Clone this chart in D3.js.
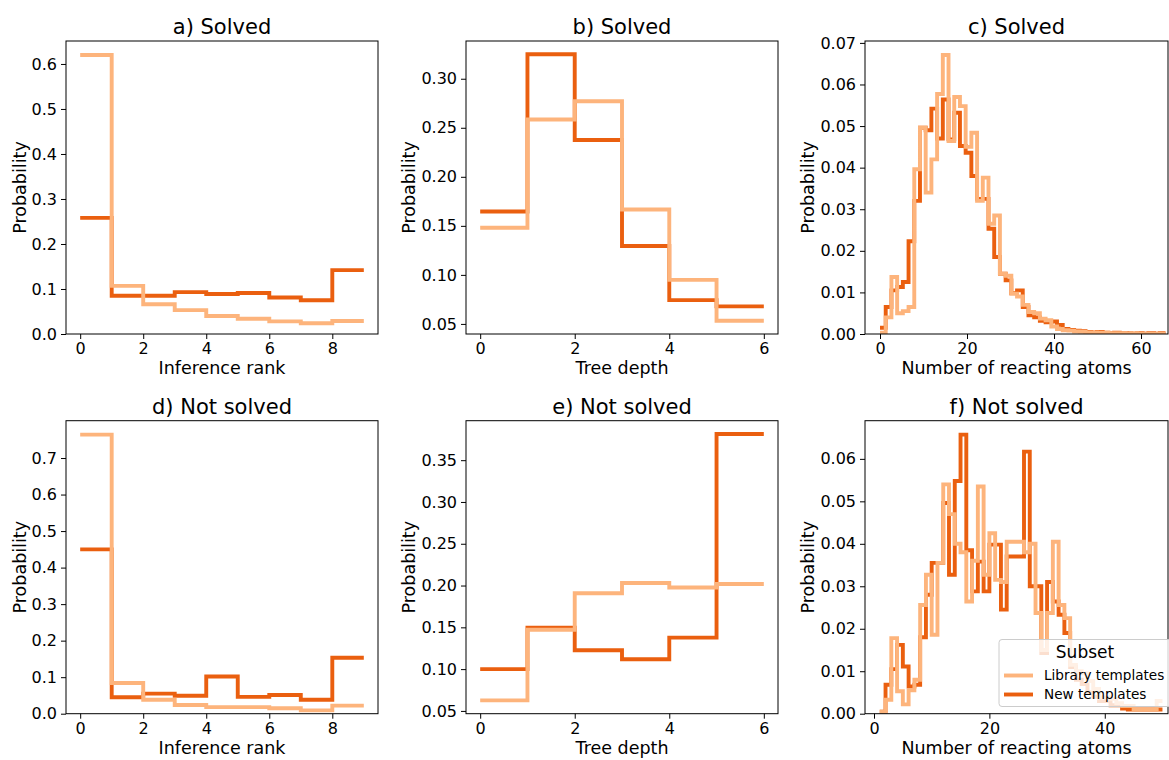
<!DOCTYPE html>
<html><head><meta charset="utf-8">
<script src="https://cdn.jsdelivr.net/npm/d3@7"></script>
<style>body{margin:0;background:#fff} svg{display:block} text{font-family:"DejaVu Sans",sans-serif;fill:#000}</style>
</head><body><svg id="chart" width="1169" height="760"></svg>
<script>
// ---------------- data ----------------
const seriesNames = ["Library templates", "New templates"];
const seriesColors = ["#fdb47c", "#ea5f0f"];

const rankEdges = [0, 1, 2, 3, 4, 5, 6, 7, 8, 9];
const solvedRankLibrary = [0.620, 0.107, 0.066, 0.053, 0.040, 0.034, 0.028, 0.024, 0.029];
const solvedRankNew     = [0.258, 0.085, 0.085, 0.093, 0.089, 0.091, 0.081, 0.075, 0.142];
const notSolvedRankLibrary = [0.764, 0.084, 0.038, 0.024, 0.018, 0.018, 0.015, 0.009, 0.022];
const notSolvedRankNew     = [0.450, 0.045, 0.055, 0.049, 0.102, 0.046, 0.051, 0.038, 0.153];

const depthEdges = [0, 1, 2, 3, 4, 5, 6];
const solvedDepthLibrary = [0.148, 0.2585, 0.277, 0.1666, 0.0949, 0.0533];
const solvedDepthNew     = [0.1646, 0.3249, 0.2376, 0.1294, 0.0743, 0.0679];
const notSolvedDepthLibrary = [0.0626, 0.1471, 0.1908, 0.2031, 0.1976, 0.2019];
const notSolvedDepthNew     = [0.100, 0.1495, 0.1226, 0.1119, 0.1377, 0.3813];

// reacting atoms, solved: bins start at 0, width 1.3125
const atomsSolvedBinStart = 0, atomsSolvedBinWidth = 1.3125;
const atomsSolvedLibrary = [0.0003, 0.0040, 0.0137, 0.0050, 0.0055, 0.0065, 0.0396, 0.0496, 0.0340, 0.0420,
  0.0577, 0.0671, 0.0464, 0.0570, 0.0548, 0.0450, 0.0484, 0.0320, 0.0376, 0.0265,
  0.0285, 0.0145, 0.0140, 0.0097, 0.0090, 0.0070, 0.0053, 0.0050, 0.0037, 0.0033,
  0.0018, 0.0012, 0.0009, 0.0008, 0.0006, 0.0005, 0.0004, 0.0004, 0.0003, 0.0003,
  0.0002, 0.0002, 0.0002, 0.0001, 0.0002, 0.0001, 0.0001, 0.0001, 0.0001, 0.0001];
const atomsSolvedNew = [0.0015, 0.0065, 0.0105, 0.0113, 0.0125, 0.0223, 0.0320, 0.0496, 0.0490, 0.0542,
  0.0470, 0.0564, 0.0468, 0.0532, 0.0452, 0.0436, 0.0380, 0.0325, 0.0325, 0.0253,
  0.0185, 0.0145, 0.0129, 0.0098, 0.0105, 0.0065, 0.0045, 0.0040, 0.0032, 0.0028,
  0.0030, 0.0022, 0.0012, 0.0010, 0.0008, 0.0007, 0.0005, 0.0004, 0.0005, 0.0003,
  0.0002, 0.0003, 0.0002, 0.0002, 0.0001, 0.0002, 0.0001, 0.0002, 0.0001, 0.0002];

// reacting atoms, not solved: bins start at 1, width 1
const atomsNotSolvedBinStart = 1, atomsNotSolvedBinWidth = 1;
const atomsNotSolvedLibrary = [0.0005, 0.0033, 0.0178, 0.0053, 0.0022, 0.0055, 0.0080, 0.0256, 0.0327, 0.0186,
  0.0355, 0.0540, 0.0470, 0.0400, 0.0380, 0.0264, 0.0360, 0.0535, 0.0327, 0.0425,
  0.0315, 0.0310, 0.0405, 0.0405, 0.0405, 0.0380, 0.0400, 0.0237, 0.0150, 0.0237,
  0.0405, 0.0256, 0.0225, 0.0115, 0.0100, 0.0095, 0.0077, 0.0058, 0.0038, 0.0038,
  0.0035, 0.0025, 0.0018, 0.0018, 0.0010, 0.0010, 0.0010, 0.0010, 0.0030];
const atomsNotSolvedNew = [0.0005, 0.0068, 0.0105, 0.0162, 0.0111, 0.0064, 0.0068, 0.0180, 0.0280, 0.0355,
  0.0355, 0.0496, 0.0327, 0.0548, 0.0657, 0.0385, 0.0288, 0.0358, 0.0288, 0.0398,
  0.0398, 0.0245, 0.0370, 0.0370, 0.0370, 0.0617, 0.0300, 0.0300, 0.0143, 0.0310,
  0.0264, 0.0233, 0.0190, 0.0110, 0.0080, 0.0070, 0.0050, 0.0040, 0.0030, 0.0030,
  0.0020, 0.0020, 0.0012, 0.0010, 0.0010, 0.0010, 0.0010, 0.0010, 0.0010];

// tick labels
const rankXTicks = [0, 2, 4, 6, 8];
const depthXTicks = [0, 2, 4, 6];
const atomsSolvedXTicks = [0, 20, 40, 60];
const atomsNotSolvedXTicks = [0, 20, 40];
const solvedRankYTicks = [0, 0.1, 0.2, 0.3, 0.4, 0.5, 0.6];
const notSolvedRankYTicks = [0, 0.1, 0.2, 0.3, 0.4, 0.5, 0.6, 0.7];
const solvedDepthYTicks = [0.05, 0.10, 0.15, 0.20, 0.25, 0.30];
const notSolvedDepthYTicks = [0.05, 0.10, 0.15, 0.20, 0.25, 0.30, 0.35];
const atomsSolvedYTicks = [0, 0.01, 0.02, 0.03, 0.04, 0.05, 0.06, 0.07];
const atomsNotSolvedYTicks = [0, 0.01, 0.02, 0.03, 0.04, 0.05, 0.06];

const titles = ["a) Solved", "b) Solved", "c) Solved", "d) Not solved", "e) Not solved", "f) Not solved"];
const xLabels = ["Inference rank", "Tree depth", "Number of reacting atoms"];
const yLabel = "Probability";

// ---------------- layout ----------------
const colLeft = [66, 466, 865], colWidth = [312, 312, 303];
const rowTop = [41, 420.7], axH = 293;

function edgesFrom(start, w, n) { return d3.range(n + 1).map(i => start + i * w); }

const panels = [
  {edges: rankEdges, series: [solvedRankLibrary, solvedRankNew], xt: rankXTicks, yt: solvedRankYTicks, fmt: ".1f", zero: true, xd: null},
  {edges: depthEdges, series: [solvedDepthLibrary, solvedDepthNew], xt: depthXTicks, yt: solvedDepthYTicks, fmt: ".2f", zero: false, xd: null},
  {edges: edgesFrom(atomsSolvedBinStart, atomsSolvedBinWidth, atomsSolvedLibrary.length), series: [atomsSolvedLibrary, atomsSolvedNew], xt: atomsSolvedXTicks, yt: atomsSolvedYTicks, fmt: ".2f", zero: true, xd: [-3.45, 66.2]},
  {edges: rankEdges, series: [notSolvedRankLibrary, notSolvedRankNew], xt: rankXTicks, yt: notSolvedRankYTicks, fmt: ".1f", zero: true, xd: null},
  {edges: depthEdges, series: [notSolvedDepthLibrary, notSolvedDepthNew], xt: depthXTicks, yt: notSolvedDepthYTicks, fmt: ".2f", zero: false, xd: null},
  {edges: edgesFrom(atomsNotSolvedBinStart, atomsNotSolvedBinWidth, atomsNotSolvedLibrary.length), series: [atomsNotSolvedLibrary, atomsNotSolvedNew], xt: atomsNotSolvedXTicks, yt: atomsNotSolvedYTicks, fmt: ".2f", zero: true, xd: [-1.56, 50.96]}
];

const svg = d3.select("#chart");
const defs = svg.append("defs");

panels.forEach((p, i) => {
  const col = i % 3, row = Math.floor(i / 3);
  const L = colLeft[col], T = rowTop[row], Wd = colWidth[col], Ht = axH;
  const e0 = p.edges[0], e1 = p.edges[p.edges.length - 1];
  const xd = p.xd || [e0 - 0.05 * (e1 - e0), e1 + 0.05 * (e1 - e0)];
  const all = p.series.flat();
  const lo = p.zero ? 0 : d3.min(all), hi = d3.max(all);
  const pad = 0.05 * (hi - lo);
  const yd = [p.zero ? 0 : lo - pad, hi + pad];
  const x = d3.scaleLinear().domain(xd).range([L, L + Wd]);
  const y = d3.scaleLinear().domain(yd).range([T + Ht, T]);

  defs.append("clipPath").attr("id", "clip" + i).append("rect")
    .attr("x", L).attr("y", T).attr("width", Wd).attr("height", Ht);

  const g = svg.append("g");
  const line = d3.line().x(d => x(d[0])).y(d => y(d[1])).curve(d3.curveStepAfter);
  // draw New first, Library on top
  [1, 0].forEach(s => {
    const vals = p.series[s];
    const pts = vals.map((v, k) => [p.edges[k], v]);
    pts.push([p.edges[vals.length], vals[vals.length - 1]]);
    g.append("path").attr("d", line(pts)).attr("fill", "none")
      .attr("stroke", seriesColors[s]).attr("stroke-width", 3.9)
      .attr("stroke-linejoin", "miter").attr("stroke-linecap", "butt")
      .attr("clip-path", `url(#clip${i})`);
  });

  // axes
  const xa = d3.axisBottom(x).tickValues(p.xt).tickFormat(d3.format("d")).tickSize(5).tickPadding(4);
  const ya = d3.axisLeft(y).tickValues(p.yt).tickFormat(d3.format(p.fmt)).tickSize(5).tickPadding(4);
  const gx = svg.append("g").attr("transform", `translate(0,${T + Ht})`).call(xa);
  const gy = svg.append("g").attr("transform", `translate(${L},0)`).call(ya);
  [gx, gy].forEach(a => {
    a.select(".domain").remove();
    a.selectAll(".tick line").attr("stroke", "#000").attr("stroke-width", 1);
    a.selectAll(".tick text").attr("font-size", 16).attr("fill", "#000")
      .style("font-family", '"DejaVu Sans", sans-serif');
  });
  // frame
  svg.append("rect").attr("x", L).attr("y", T).attr("width", Wd).attr("height", Ht)
    .attr("fill", "none").attr("stroke", "#000").attr("stroke-width", 1);

  // title
  svg.append("text").attr("x", L + Wd / 2).attr("y", T - 7).attr("text-anchor", "middle")
    .attr("font-size", 21).text(titles[i]);
  // x label
  svg.append("text").attr("x", L + Wd / 2).attr("y", T + Ht + 40).attr("text-anchor", "middle")
    .attr("font-size", 17.5).text(xLabels[col]);
  // y label
  const yOff = col === 0 ? 40 : 51;
  svg.append("text").attr("transform", `translate(${L - yOff},${T + Ht / 2}) rotate(-90)`)
    .attr("text-anchor", "middle").attr("font-size", 17.5).text(yLabel);

  if (i === 5) {
    const lg = svg.append("g");
    lg.append("rect").attr("x", 999).attr("y", 639.5).attr("width", 180).attr("height", 67)
      .attr("rx", 3).attr("fill", "#fff").attr("fill-opacity", 0.8).attr("stroke", "#ccc");
    lg.append("text").attr("x", 1085).attr("y", 658).attr("text-anchor", "middle")
      .attr("font-size", 17).text("Subset");
    seriesNames.forEach((n, s) => {
      const yy = 675.5 + s * 19;
      lg.append("line").attr("x1", 1004).attr("x2", 1033).attr("y1", yy).attr("y2", yy)
        .attr("stroke", seriesColors[s]).attr("stroke-width", 3.9);
      lg.append("text").attr("x", 1044).attr("y", yy + 4.5).attr("font-size", 13.6).text(n);
    });
  }
});
</script></body></html>
